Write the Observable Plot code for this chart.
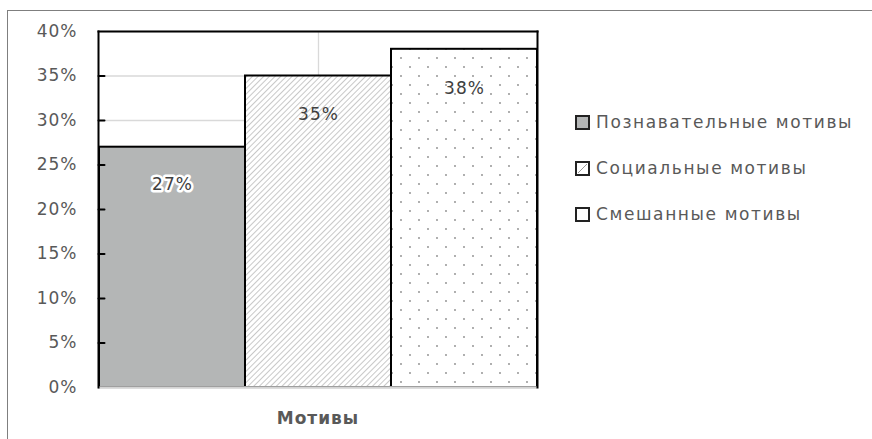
<!DOCTYPE html>
<html><head><meta charset="utf-8">
<script src="https://cdn.jsdelivr.net/npm/d3@7"></script>
<script src="https://cdn.jsdelivr.net/npm/@observablehq/plot@0.6"></script>
<style>
body{margin:0;background:#fff;}
#wrap{position:relative;width:872px;height:439px;overflow:hidden;font-family:"DejaVu Sans",sans-serif;}
#border{position:absolute;left:7px;top:10px;right:-5px;bottom:-5px;border-top:1.5px solid #7f7f7f;border-left:1.5px solid #7f7f7f;}
#chart{position:absolute;left:0;top:0;}
.lg{position:absolute;left:575px;height:20px;display:flex;align-items:center;font-size:17px;letter-spacing:1.6px;color:#595959;white-space:nowrap;}
.lg svg{margin-right:6px;}
</style></head><body>
<div id="wrap"><div id="border"></div><div id="chart"></div></div>
<script>
const categories = ["Познавательные мотивы", "Социальные мотивы", "Смешанные мотивы"];
const values = [0.27, 0.35, 0.38];
const yTicks = [0, 0.05, 0.10, 0.15, 0.20, 0.25, 0.30, 0.35, 0.40];
const axisTitle = "Мотивы";

const fills = ["#b4b6b6", "url(#hatch)", "url(#dots)"];
const data = categories.map((c, i) => ({cat: c, value: values[i], label: Math.round(values[i] * 100) + "%"}));
const pct = d => Math.round(d * 100) + "%";
const font = "'DejaVu Sans', sans-serif";

const plot = Plot.plot({
  width: 872, height: 439,
  marginLeft: 98, marginRight: 335, marginTop: 31, marginBottom: 52,
  style: {fontFamily: font, fontSize: "17px", letterSpacing: "1px", color: "#595959", background: "transparent", overflow: "visible"},
  x: {type: "band", domain: categories, padding: 0, axis: null},
  y: {domain: [0, 0.4], ticks: yTicks, tickFormat: pct},
  color: {domain: categories, range: fills},
  marks: [
    Plot.gridY(yTicks, {stroke: "#d9d9d9", strokeOpacity: 1, strokeWidth: 1.3}),
    Plot.ruleX([categories[1]], {stroke: "#d9d9d9", strokeWidth: 1.3}),
    Plot.barY(data, {x: "cat", y: "value", fill: "cat", stroke: "#000", strokeWidth: 2}),
    Plot.ruleY([0], {stroke: "#d4d4d4", strokeWidth: 2.5}),
    Plot.frame({anchor: "top", stroke: "#000", strokeWidth: 2}),
    Plot.frame({anchor: "left", stroke: "#000", strokeWidth: 2}),
    Plot.frame({anchor: "right", stroke: "#000", strokeWidth: 2}),
    Plot.vector(yTicks.slice(1, -1), {
      y: d => d, frameAnchor: "left", rotate: 90, length: 6, anchor: "start",
      stroke: "#000", strokeWidth: 2,
      shape: {draw(ctx, l) { ctx.moveTo(0, 0); ctx.lineTo(0, -l); }}
    }),
    Plot.axisY({ticks: yTicks, tickSize: 0, tickPadding: 21, tickFormat: pct, label: null, fill: "#595959", fontSize: 17}),
    Plot.text(data.filter(d => d.cat === categories[0]), {x: "cat", y: "value", text: "label", dy: 37, fill: "#404040", stroke: "#fff", strokeWidth: 5, fontSize: 17}),
    Plot.text(data.filter(d => d.cat !== categories[0]), {x: "cat", y: "value", text: "label", dy: 39, fill: "#404040", fontSize: 17}),
    Plot.text([axisTitle], {frameAnchor: "bottom", dy: 31, lineAnchor: "middle", fontWeight: "bold", fill: "#595959", fontSize: 17})
  ]
});

const defs = d3.select(plot).insert("defs", ":first-child");
const hatch = defs.append("pattern").attr("id", "hatch").attr("patternUnits", "userSpaceOnUse")
  .attr("width", 4).attr("height", 4).attr("patternTransform", "rotate(45)");
hatch.append("rect").attr("width", 4).attr("height", 4).attr("fill", "#fff");
hatch.append("line").attr("x1", 0).attr("y1", 0).attr("x2", 0).attr("y2", 4).attr("stroke", "#9a9a9a").attr("stroke-width", 1.1);
const dots = defs.append("pattern").attr("id", "dots").attr("patternUnits", "userSpaceOnUse")
  .attr("width", 18).attr("height", 18);
dots.append("rect").attr("width", 18).attr("height", 18).attr("fill", "#fff");
dots.append("circle").attr("cx", 5).attr("cy", 4).attr("r", 0.9).attr("fill", "#8a8a8a");
dots.append("circle").attr("cx", 14).attr("cy", 13).attr("r", 0.9).attr("fill", "#8a8a8a");

document.getElementById("chart").appendChild(plot);

// Legend
const wrap = document.getElementById("wrap");
categories.forEach((c, i) => {
  const row = document.createElement("div");
  row.className = "lg";
  row.style.top = (112 + i * 46) + "px";
  const sw = d3.create("svg").attr("width", 15).attr("height", 15);
  sw.append("rect").attr("x", 1).attr("y", 1).attr("width", 13).attr("height", 13)
    .attr("fill", i === 0 ? fills[0] : "#fff").attr("stroke", "#222").attr("stroke-width", 2);
  if (i === 1) sw.append("line").attr("x1", 3).attr("y1", 12).attr("x2", 12).attr("y2", 3).attr("stroke", "#999").attr("stroke-width", 1);
  row.appendChild(sw.node());
  const t = document.createElement("span");
  t.textContent = c;
  row.appendChild(t);
  wrap.appendChild(row);
});
</script>
</body></html>
